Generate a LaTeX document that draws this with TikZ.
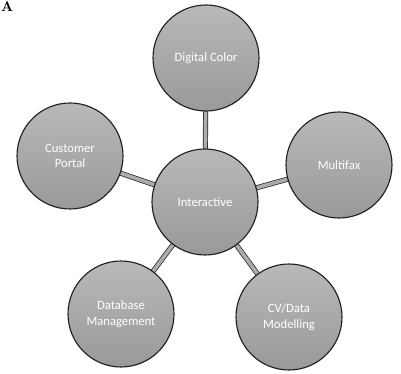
\documentclass[tikz,border=0pt]{standalone}
\usepackage{fontspec}
\setsansfont{Carlito}
\usetikzlibrary{positioning, backgrounds}

\begin{document}
\begin{tikzpicture}[
  hub/.style={circle, draw=gray!25!black, thick,
              top color=gray!55, bottom color=gray!80,
              minimum size=2.65cm, align=center, inner sep=1pt,
              text=white, font=\sffamily\small},
  link/.style={draw=gray!25!black, double=gray!65,
               double distance=2.6pt, line width=0.5pt}
]
\useasboundingbox (0,0) rectangle (10.025,9.325);
%% Centre and outer circles
\node[hub] (I) at (5.125,4.275) {Interactive};
\node[hub] (T) at (5.15,7.875) {Digital Color};
\node[hub] (P) at (1.75,5.425) {Customer\\Portal};
\node[hub] (M) at (8.475,5.2) {Multifax};
\node[hub] (D) at (3.025,1.475) {Database\\Management};
\node[hub] (V) at (7.225,1.4) {CV/Data\\Modelling};
%% Heading letter in the corner
\node[font=\bfseries, anchor=north west, inner sep=0pt] (hd) at (0.02,9.3) {A};
%% Spokes from centre
\begin{scope}[on background layer]
\foreach \t in {T,P,M,D,V}{
  \draw[link] (I.center) -- (\t.center);}
\end{scope}
\end{tikzpicture}
\end{document}
